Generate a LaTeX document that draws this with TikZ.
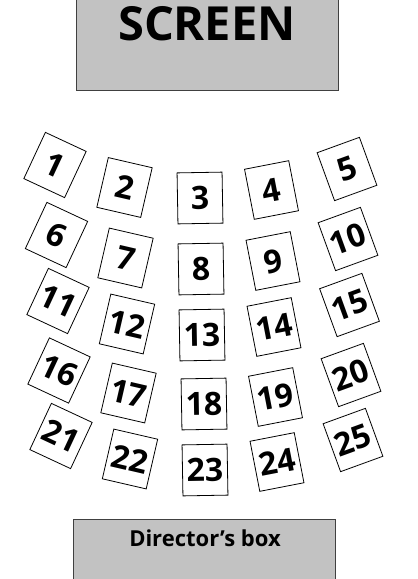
\documentclass[tikz,border=0pt]{standalone}
\usepackage{fontspec}
\setsansfont{Open Sans}
\usetikzlibrary{positioning}

\begin{document}
\begin{tikzpicture}[x=1pt,y=-1pt,
      seat/.style={draw,fill=white,line width=0.8pt,minimum width=45pt,minimum height=51pt,
        inner sep=0pt,text height=23pt,text depth=0pt,
        font=\sffamily\bfseries\fontsize{32}{32}\selectfont},
      stage/.style={draw=black!75,fill=black!24,line width=1pt},
      label text/.style={inner sep=0pt,anchor=base,font=\sffamily\bfseries}]
    \useasboundingbox (0,0) rectangle (418,579);
    % screen and director's box
    \draw[stage] (76,-10) rectangle (338,90);
    \node[label text,font=\sffamily\bfseries\fontsize{47}{47}\selectfont] (screen) at (207,40) {SCREEN};
    \draw[stage] (73,519) rectangle (335,595);
    \node[label text,font=\sffamily\bfseries\fontsize{22}{22}\selectfont] (director) at (205,546) {Director’s box};
    % seats, row by row
    \node[seat,rotate=-25] (s1) at (55,165) {1};
    \node[seat,rotate=-13] (s2) at (124.5,187.5) {2};
    \node[seat,rotate=1] (s3) at (200,198) {3};
    \node[seat,rotate=11] (s4) at (271.5,190) {4};
    \node[seat,rotate=20] (s5) at (347,169) {5};
    \node[seat,rotate=-25] (s6) at (56.5,235) {6};
    \node[seat,rotate=-13] (s7) at (125.5,258) {7};
    \node[seat,rotate=1] (s8) at (201,269) {8};
    \node[seat,rotate=11] (s9) at (273,261) {9};
    \node[seat,rotate=20] (s10) at (348,239) {10};
    \node[seat,rotate=-25] (s11) at (58,301) {11};
    \node[seat,rotate=-13] (s12) at (127,324) {12};
    \node[seat,rotate=1] (s13) at (202,335) {13};
    \node[seat,rotate=11] (s14) at (274,327) {14};
    \node[seat,rotate=20] (s15) at (349.5,305) {15};
    \node[seat,rotate=-25] (s16) at (59,370.5) {16};
    \node[seat,rotate=-13] (s17) at (128.5,393) {17};
    \node[seat,rotate=1] (s18) at (204,404) {18};
    \node[seat,rotate=11] (s19) at (275.5,397) {19};
    \node[seat,rotate=20] (s20) at (351,375) {20};
    \node[seat,rotate=-25] (s21) at (61,436) {21};
    \node[seat,rotate=-13] (s22) at (130,459) {22};
    \node[seat,rotate=1] (s23) at (205,470) {23};
    \node[seat,rotate=11] (s24) at (277,462) {24};
    \node[seat,rotate=20] (s25) at (353,440) {25};
\end{tikzpicture}
\end{document}
